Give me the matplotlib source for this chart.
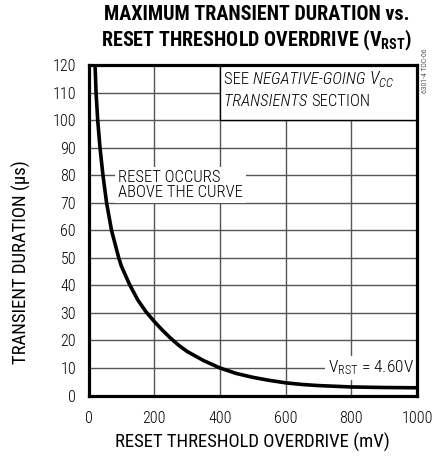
import matplotlib
matplotlib.use("Agg")
import matplotlib.pyplot as plt
from matplotlib.patches import Rectangle
from matplotlib.offsetbox import TextArea, HPacker, AnnotationBbox

FONT = "Roboto Condensed"
plt.rcParams['font.family'] = [FONT, 'DejaVu Sans']
plt.rcParams['font.weight'] = 'light'
plt.rcParams['mathtext.fontset'] = 'custom'
plt.rcParams['mathtext.rm'] = FONT + ':light'
plt.rcParams['mathtext.it'] = FONT + ':italic:light'
plt.rcParams['mathtext.bf'] = FONT + ':bold'

# data
overdrive_mv = [20, 23, 28, 35, 44, 55, 70, 92, 100, 125, 150, 175, 200, 225, 250, 275, 300,
                350, 400, 450, 500, 550, 600, 650, 700, 800, 900, 1000]
duration_us = [120, 110, 100, 90, 80, 70, 60, 50, 47, 40.3, 34.7, 30.4, 26.9, 23.7, 20.8, 18.2, 16.0,
               12.7, 10.0, 8.0, 6.6, 5.5, 4.6, 4.0, 3.6, 3.1, 2.9, 2.8]
x_ticks = [0, 200, 400, 600, 800, 1000]
y_ticks = list(range(0, 121, 10))

fig = plt.figure(figsize=(4.48, 4.58), dpi=100)
ax = fig.add_axes([88.5/448, 1-395.5/458, (417-88.5)/448, (395.5-65)/458])

ax.set_xlim(0, 1000)
ax.set_ylim(0, 120)
ax.set_xticks(x_ticks)
ax.set_yticks(y_ticks)
ax.set_xticklabels([str(v) for v in x_ticks], fontsize=11.5)
ax.set_yticklabels([str(v) for v in y_ticks], fontsize=11.5)
ax.tick_params(length=0, pad=9)
ax.tick_params(axis='x', pad=11)
ax.grid(True, color='#555555', linewidth=1.0)
ax.set_axisbelow(True)
for s in ax.spines.values():
    s.set_linewidth(2.3)
    s.set_color('black')

ax.plot(overdrive_mv, duration_us, color='black', linewidth=2.6, solid_capstyle='butt', zorder=3)

ax.set_xlabel("RESET THRESHOLD OVERDRIVE (mV)", fontsize=13.5, labelpad=5)
ax.set_ylabel("TRANSIENT DURATION (µs)", fontsize=13.5, va='center')
ax.yaxis.set_label_coords(-0.203, 0.405)

fig.text(257/448, 1-15/458, "MAXIMUM TRANSIENT DURATION vs.", ha='center', va='center',
         fontsize=14.5, fontweight='bold')
fig.text(257/448, 1-40/458, r"RESET THRESHOLD OVERDRIVE (V$_{\mathbf{RST}}$)", ha='center', va='center',
         fontsize=14.5, fontweight='bold')

# note box upper right
ax.add_patch(Rectangle((400, 100), 600, 20, facecolor='white', edgecolor='none', zorder=1.5))
ax.plot([400, 400, 1000], [120, 100, 100], color='black', linewidth=1.0, zorder=1.6)
fs = 12
row1 = HPacker(children=[
    TextArea("SEE ", textprops=dict(fontsize=fs)),
    TextArea("NEGATIVE-GOING ", textprops=dict(fontsize=fs, style='italic')),
    TextArea(r"$\mathit{V}_{\mathit{CC}}$", textprops=dict(fontsize=fs+1)),
], align='baseline', pad=0, sep=0)
row2 = HPacker(children=[
    TextArea("TRANSIENTS ", textprops=dict(fontsize=fs, style='italic')),
    TextArea("SECTION", textprops=dict(fontsize=fs)),
], align='baseline', pad=0, sep=0)
ab1 = AnnotationBbox(row1, (224/448, 1-79/458), xycoords='figure fraction', box_alignment=(0, 0.5),
                     frameon=False, pad=0)
ab2 = AnnotationBbox(row2, (224/448, 1-101/458), xycoords='figure fraction', box_alignment=(0, 0.5),
                     frameon=False, pad=0)
fig.add_artist(ab1)
fig.add_artist(ab2)

ax.text(90, 76.5, "RESET OCCURS\nABOVE THE CURVE", fontsize=fs, ha='left', va='center', linespacing=1.0,
        bbox=dict(facecolor='white', edgecolor='none', pad=2), zorder=2)
ax.text(990, 10, r"V$_{\mathrm{RST}}$ = 4.60V", fontsize=fs+0.5, ha='right', va='center',
        bbox=dict(facecolor='white', edgecolor='none', pad=2), zorder=2)

fig.text(425/448, 1-71/458, "6301-4 TOC-06", rotation=90, fontsize=5.5, ha='center', va='center')

fig.savefig("out.png", dpi=100)
